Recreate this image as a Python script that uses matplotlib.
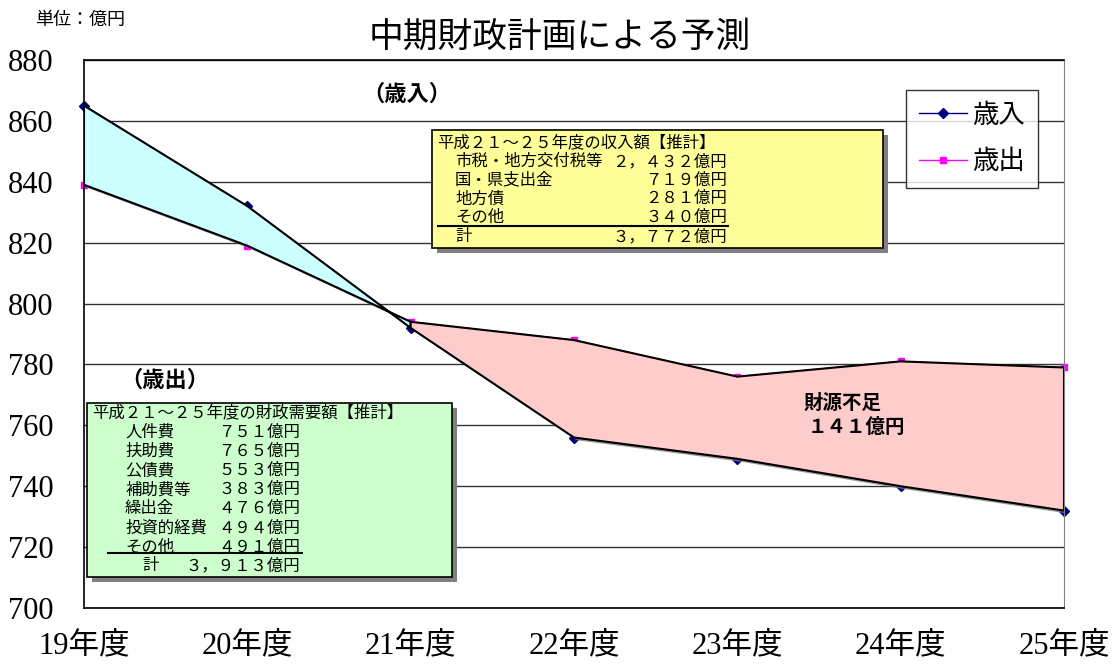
import matplotlib
matplotlib.use("Agg")
import matplotlib.pyplot as plt
import matplotlib.patheffects as pe
from matplotlib.patches import Rectangle
from matplotlib.lines import Line2D

# データ（単位：億円）
years = ["19年度", "20年度", "21年度", "22年度", "23年度", "24年度", "25年度"]
revenue = [865, 832, 792, 756, 749, 740, 732]      # 歳入
expenditure = [839, 819, 794, 788, 776, 781, 779]  # 歳出

income_items = ["市税・地方交付税等", "国・県支出金", "地方債", "その他"]
income_values = ["２，４３２億円", "７１９億円", "２８１億円", "３４０億円"]
income_total = "３，７７２億円"

need_items = ["人件費", "扶助費", "公債費", "補助費等", "繰出金", "投資的経費", "その他"]
need_values = ["７５１億円", "７６５億円", "５５３億円", "３８３億円", "４７６億円", "４９４億円", "４９１億円"]
need_total = "３，９１３億円"

plt.rcParams['font.family'] = ['Liberation Serif', 'Noto Sans CJK JP', 'DejaVu Sans']

W, H = 1113, 669
fig = plt.figure(figsize=(W / 100, H / 100), dpi=100)


def fx(px):
    return px / W


def fy(py):
    return 1 - py / H


ax = fig.add_axes([fx(84), fy(608), fx(1064) - fx(84), fy(60) - fy(608)])
x = list(range(len(years)))

# 系列の線（塗りの下に描く）
ax.plot(x, revenue, color='#000080', marker='D', markersize=5, linewidth=1,
        label='歳入', zorder=1.5, clip_on=False)
ax.plot(x, expenditure, color='#FF00FF', marker='s', markersize=5, linewidth=1,
        label='歳出', zorder=1.5, clip_on=False)

# 塗りつぶし（歳入超過 / 財源不足）
shadow = [pe.SimplePatchShadow(offset=(2, -2), shadow_rgbFace='gray', alpha=0.8), pe.Normal()]
ax.fill_between(x[:3], revenue[:3], expenditure[:3], facecolor='#CCFFFF',
                edgecolor='black', linewidth=1.5, zorder=2, path_effects=shadow)
ax.fill_between(x[2:], revenue[2:], expenditure[2:], facecolor='#FFCCCC',
                edgecolor='black', linewidth=1.5, zorder=2, path_effects=shadow)

ax.set_xlim(0, 6)
ax.set_ylim(700, 880)
ax.set_yticks(range(700, 881, 20))
ax.set_xticks(x)
ax.set_xticklabels(years)
ax.tick_params(axis='both', length=0, labelsize=22)
ax.tick_params(axis='x', pad=17)
ax.tick_params(axis='y', pad=22)
ax.grid(axis='y', color='#333333', linewidth=1)
ax.set_axisbelow(True)
for s in ['left', 'top', 'bottom']:
    ax.spines[s].set_color('black')
    ax.spines[s].set_linewidth(1.2)
ax.spines['right'].set_color('#808080')

# 凡例
leg = ax.legend(loc='upper left', bbox_to_anchor=(fx(906), fy(90)),
                bbox_transform=fig.transFigure, fontsize=19, frameon=True,
                fancybox=False, edgecolor='black', handlelength=1.8,
                labelspacing=0.85, borderpad=0.5, handletextpad=0.2,
                borderaxespad=0)
leg.get_frame().set_linewidth(1)

# タイトルなど
fig.text(fx(560), fy(38), '中期財政計画による予測', fontsize=25, ha='center', va='center')
fig.text(fx(35), fy(20), '単位：億円', fontsize=13, ha='left', va='center')
fig.text(fx(362), fy(95), '（歳入）', fontsize=16, fontweight='bold', ha='left', va='center')
fig.text(fx(120), fy(381), '（歳出）', fontsize=16, fontweight='bold', ha='left', va='center')
fig.text(fx(804), fy(403), '財源不足', fontsize=14, fontweight='bold', ha='left', va='center')
fig.text(fx(808), fy(427), '１４１億円', fontsize=14, fontweight='bold', ha='left', va='center')


def box(x0, y0, x1, y1, color):
    sh = Rectangle((fx(x0 + 5), fy(y1 + 5)), fx(x1 - x0), fy(y0) - fy(y1),
                   transform=fig.transFigure, facecolor='#808080', edgecolor='none', zorder=5)
    bx = Rectangle((fx(x0), fy(y1)), fx(x1 - x0), fy(y0) - fy(y1),
                   transform=fig.transFigure, facecolor=color, edgecolor='black',
                   linewidth=1.2, zorder=6)
    fig.add_artist(sh)
    fig.add_artist(bx)


# 収入額ボックス
box(432, 130, 883, 248, '#FFFF99')
fs = 11.8
fig.text(fx(437), fy(143), '平成２１～２５年度の収入額【推計】', fontsize=fs, va='center', zorder=7)
for i, (lab, val) in enumerate(zip(income_items, income_values)):
    yy = 162 + i * 18.7
    fig.text(fx(455), fy(yy), lab, fontsize=fs, va='center', zorder=7)
    fig.text(fx(727), fy(yy), val, fontsize=fs, va='center', ha='right', zorder=7)
fig.text(fx(455), fy(237), '計', fontsize=fs, va='center', zorder=7)
fig.text(fx(727), fy(237), income_total, fontsize=fs, va='center', ha='right', zorder=7)
fig.add_artist(Line2D([fx(438), fx(728)], [fy(226), fy(226)], transform=fig.transFigure,
                      color='black', linewidth=1.5, zorder=7))

# 財政需要額ボックス
box(87, 403, 452, 577, '#CCFFCC')
fig.text(fx(92), fy(413), '平成２１～２５年度の財政需要額【推計】', fontsize=fs, va='center', zorder=7)
for i, (lab, val) in enumerate(zip(need_items, need_values)):
    yy = 433 + i * 19.1
    fig.text(fx(125), fy(yy), lab, fontsize=fs, va='center', zorder=7)
    fig.text(fx(300), fy(yy), val, fontsize=fs, va='center', ha='right', zorder=7)
fig.text(fx(142), fy(566), '計', fontsize=fs, va='center', zorder=7)
fig.text(fx(300), fy(566), need_total, fontsize=fs, va='center', ha='right', zorder=7)
fig.add_artist(Line2D([fx(108), fx(302)], [fy(553), fy(553)], transform=fig.transFigure,
                      color='black', linewidth=1.5, zorder=7))

fig.savefig('out.png', dpi=100)
